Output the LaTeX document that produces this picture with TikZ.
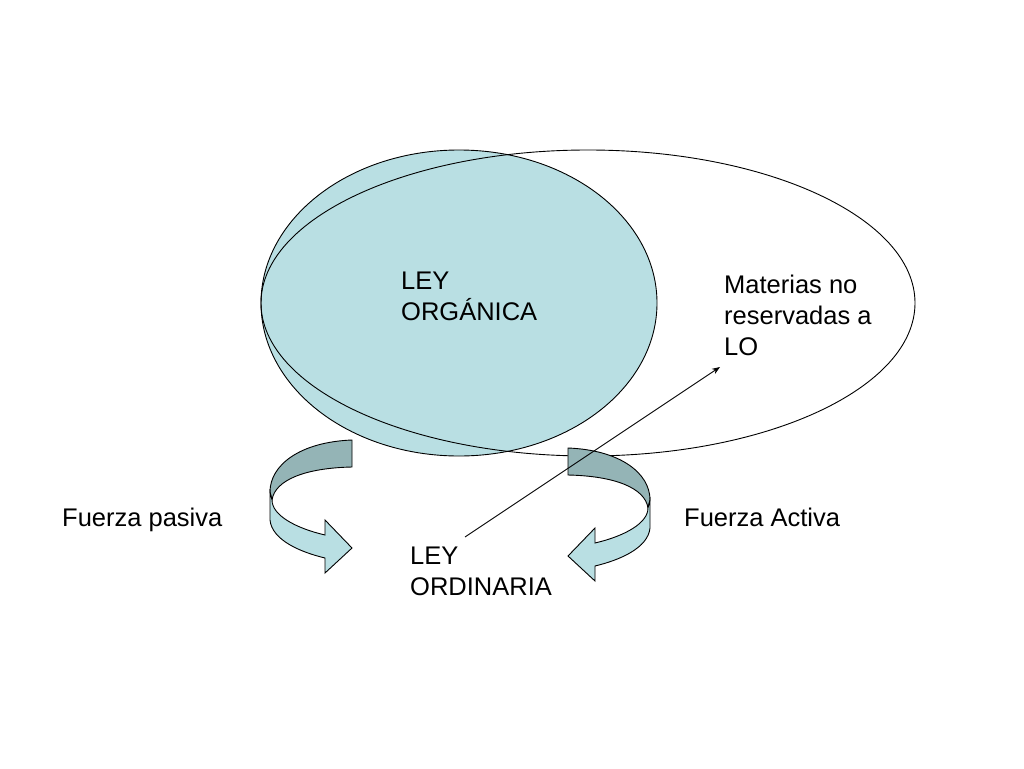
\documentclass[tikz,border=0pt]{standalone}
\usepackage{fontspec}
\setmainfont{Liberation Sans}
\usetikzlibrary{arrows.meta}
\definecolor{lightteal}{RGB}{185,223,227}
\definecolor{darkteal}{RGB}{148,180,182}
\tikzset{
  txt/.style={anchor=north west, align=left, inner sep=0pt, font=\fontsize{25.5}{31}\selectfont},
  band/.style={draw=black, line width=0.9pt}
}
\newcommand{\curlarrow}{%
  \draw [band, fill=darkteal] (352,440) .. controls (300,442) and (270,465) .. (270,492)
    -- (272,500) .. controls (275,480) and (305,468) .. (352,467) -- cycle;
  \draw [band, fill=lightteal] (270,492) -- (270,520) .. controls (272,540) and (300,552) .. (325,558)
    -- (325,573) -- (352,548) -- (325,520) -- (325,535)
    .. controls (295,528) and (272,515) .. (272,500) -- cycle;
}
\begin{document}
\begin{tikzpicture}[x=1pt, y=-1pt]
\useasboundingbox (0,0) rectangle (1024,768);
\fill [white] (0,0) rectangle (1024,768);
% ellipses
\draw [fill=lightteal, line width=0.9pt] (459,303) ellipse [x radius=198, y radius=153];
\draw [line width=0.9pt] (588,303) ellipse [x radius=327, y radius=153];
% curled arrows
\begin{scope}
  \curlarrow
\end{scope}
\begin{scope}[xshift=920pt, yshift=-8pt, xscale=-1]
  \curlarrow
\end{scope}
% labels
\node [txt] (lo) at (401,272) {LEY\\ORGÁNICA};
\node [txt] (mat) at (724,275) {Materias no\\reservadas a\\LO};
\node [txt] (pas) at (62,508) {Fuerza pasiva};
\node [txt] (act) at (684,508) {Fuerza Activa};
\node [txt] (ord) at (410,547) {LEY\\ORDINARIA};
\coordinate (from) at (465,537);
\coordinate (to) at (720,367);
\draw [-{Stealth[length=8pt]}, line width=0.9pt] (from) -- (to);
\end{tikzpicture}
\end{document}
